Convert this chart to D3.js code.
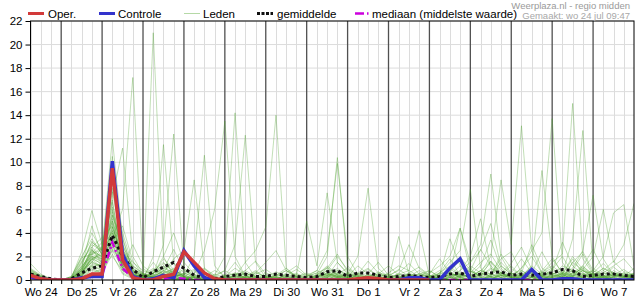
<!DOCTYPE html>
<html><head><meta charset="utf-8">
<script src="https://cdn.jsdelivr.net/npm/d3@7"></script>
<style>body{margin:0;background:#fff}svg{display:block;font-family:"Liberation Sans",Arial,sans-serif}</style>
</head><body><svg id="c" width="635" height="300"></svg>
<script>
// 6-hourly steps starting Wo 24 jul 06:00
const dayLabels = ["Wo 24","Do 25","Vr 26","Za 27","Zo 28","Ma 29","Di 30","Wo 31","Do 1","Vr 2","Za 3","Zo 4","Ma 5","Di 6","Wo 7"];
const yTicks = [0,2,4,6,8,10,12,14,16,18,20,22];

const oper = [0.4,0.1,0, 0,0,0.1,0.5, 0.5,9.5,1.7,0.2, 0,0,0.3,0.5, 2.4,1.5,0.6,0.1, 0,0,0,0, 0,0,0,0, 0,0,0,0, 0,0.1,0.2,0.1, 0,0,0,0, 0];
const controle = [0.3,0.1,0, 0,0,0.2,0.3, 0.3,10.1,2.2,0.3, 0,0.1,0.4,0.2, 2.5,1.2,0.2,0, 0,0,0,0, 0,0,0,0, 0,0,0,0, 0,0,0.1,0, 0,0,0.2,0.2, 0,0,1.0,1.8, 0,0,0,0, 0,0,0.9,0, 0,0.1,0.1,0, 0,0,0,0, 0];
const gemiddelde = [0.5,0.3,0.1, 0,0.1,0.6,1.0, 1.2,3.8,2.0,0.9, 0.2,0.7,1.1,1.5, 1.0,0.4,0.2,0.1, 0.3,0.4,0.5,0.3, 0.3,0.5,0.4,0.3, 0.2,0.3,0.7,0.8, 0.3,0.6,0.6,0.4, 0.2,0.3,0.4,0.3, 0.2,0.3,0.5,0.6, 0.3,0.5,0.6,0.7, 0.4,0.5,0.4,0.5, 0.6,0.9,0.8,0.3, 0.4,0.5,0.5,0.4, 0.3];
const mediaan = [0.2,0,0, 0,0,0.1,0.3, 0.4,3.2,1.0,0.2, 0,0,0.1,0.2, 0.1,0,0,0, 0,0,0,0, 0,0,0,0, 0,0,0,0, 0,0,0,0, 0,0,0,0, 0,0,0,0, 0,0,0,0, 0,0,0,0, 0,0,0,0, 0,0,0,0, 0];

const leden = [
[0.6,0.2,0, 0,0.1,0.8,1.5, 1.2,4.5,2.0,0.5, 0.2,21.0,2.0,0.3, 0.1,0,0.5,0.2, 0,0,0.3,0.8, 0.2,0,0,0.1, 0,0.3,0.6,0.2, 0,0.1,0.4,0, 0,0.2,0.5,0.1, 0,0,0.3,0.6, 0.2,0,0.4,1.2, 0.5,0,0.2,0.6, 1.0,0.3,0,0.5, 0.2,0,0.8,0.3, 0.1],
[0.3,0,0, 0,0,0.5,2.2, 1.8,3.5,6.0,17.2, 1.0,0.3,1.2,0.5, 0,0.2,0,0, 0.4,1.5,0.3,0, 0,0.2,0.1,0, 0,0,0.2,1.0, 0.3,0,0,0.2, 0.1,0,0,0, 0.3,0.8,0.2,0, 0,0.5,1.5,0.4, 0,0,0.3,0.2, 0,0.6,0.2,0, 0,0.3,1.1,0.4, 0.2],
[1.4,0.5,0.1, 0,0.2,1.5,3.0, 2.5,12.0,3.5,0.8, 0.3,1.5,0.4,0, 0,0,0.3,0, 0,0,0,0.2, 0,0,0.5,0, 0,0.2,0,0, 0,0.5,1.0,0.3, 0,0,0.6,0.2, 0,0.3,0,0, 0.2,0,0,0.4, 1.2,0.3,0,0, 0.2,0.5,1.8,0.6, 0,0,0.2,0, 0],
[0.5,0.1,0, 0,0,0.3,1.0, 1.5,7.0,11.2,2.0, 0.5,0.2,0,0, 0.3,0.8,0.2,0, 0,0.2,0,0, 0.6,0.3,0,0, 0,0,0,0.4, 0.2,0,0.3,0, 0,0,0,0, 0,0,0.6,0.2, 0,0,0.3,0, 0,0.2,0.8,0.3, 0,0,0.4,1.1, 0.5,0.2,0,0, 0],
[0.2,0,0, 0,0,0.2,0.8, 0.6,3.0,1.2,0.3, 0,2.0,11.5,1.5, 0.2,0,0,0, 0.3,0,0,0, 0,0.4,1.0,0.2, 0,0,0,0, 0.3,0.1,0,0, 0,0.5,0.2,0, 0,0,0,0.3, 1.0,0.2,0,0, 0,0.3,0,0.5, 0.2,0,0,0.3, 0.8,0.4,0,0, 0],
[0.8,0.3,0, 0,0.1,1.0,2.5, 2.0,5.0,2.5,1.5, 0.8,0.5,3.0,12.4, 1.0,0.2,0,0, 0,0,0.4,0, 0,0,0,0.3, 0.5,0,0,0.1, 0,0,0.2,0.7, 0.2,0,0,0, 0,0.4,1.0,0.3, 0,0,0,0, 0.2,0.4,0,0, 0,0,0.3,0.2, 0,0.6,0.3,0.5, 0.3],
[0.1,0,0, 0,0,0.6,1.8, 1.0,4.0,1.8,0.5, 0.2,0.8,1.5,0.6, 0.4,2.0,10.6,1.2, 0.2,0,0,0, 0,0.3,0,0, 0,0.2,0.8,0.3, 0,0,0,0.4, 0.1,0,0,0, 0.2,0,0,0, 0,0.3,0.9,0.2, 0,0,0,0.4, 0.6,0.2,0,0, 0,0.3,0,0.2, 0.6],
[0.4,0.1,0, 0,0.3,2.0,3.5, 2.2,6.0,1.0,0.3, 0,0.2,0.6,1.8, 2.5,8.5,1.0,0.2, 0,0,0.2,0.6, 0.3,0,0,0, 0,0.5,2.0,10.4, 1.2,0.3,0,0, 0,0.2,0.4,0, 0,0,0.2,0.1, 0,0,0,0.5, 0.3,0,0,0, 0,0.4,0.2,0, 0,0,0.5,0.3, 0.2],
[0,0,0, 0,0,0.4,1.2, 0.8,3.5,1.5,0.4, 0.3,0.5,2.0,4.0, 1.5,0.5,2.5,6.0, 13.5,2.0,0.3,0, 0,0,0.2,0, 0,0,0,0, 0.3,0.6,0.2,0, 0,3.7,0.5,0, 0,0,0,0.4, 0.8,0.3,0,0, 0,0.2,0,0, 0,0,1.5,0.8, 0.2,0,0,0.3, 0.5],
[0.3,0,0, 0,0.2,1.2,2.0, 1.5,4.5,2.0,0.7, 0.4,1.0,0.5,0.2, 0,0.6,1.0,0.4, 2.0,14.2,1.5,0.2, 0,0,0,0.5, 0.2,0,0,0, 0,0,0.5,0.2, 0,0,0,0.6, 0.3,0,0,0, 0,0.5,0.2,0, 0,0,0,0, 0.5,0.2,0.6,1.2, 0.4,0,0,0, 0],
[0.9,0.4,0.1, 0,0,0.1,0.6, 0.9,2.5,1.0,3.0, 1.2,0.5,0.3,0.8, 0.5,0,0,0.3, 0.8,3.0,12.3,1.5, 0.2,0,0,0, 0,0,0.3,0.6, 0.2,0,0,0, 0,0,0,0.2, 0,0.3,0.6,4.4, 0.8,0.2,0,0, 0,0,0.6,0.3, 0,0,0,0.2, 0.5,0.3,0,0, 0.2],
[0.2,0,0, 0,0,0.8,2.8, 1.8,5.5,3.0,1.0, 0.5,0,0.2,0.5, 0.3,0.2,0,0, 0,0.3,1.5,2.5, 4.5,14.0,1.0,0.3, 0,0,0,0.2, 0.4,0,0,0, 0,0.3,0,0, 0.2,0,0.3,0, 0,0,0.5,0.2, 0,0.8,0.3,0, 0,0,0,0, 0.2,0.6,0.4,0.3, 0.2],
[0.5,0.2,0, 0,0,0.3,1.4, 1.2,3.2,0.6,0.2, 0,0.3,0.8,0.4, 0,0,0.3,0.8, 0.4,0,0,0.6, 1.5,2.5,0.8,0.4, 5.0,1.2,7.4,1.5, 0.5,2.0,7.8,1.0, 0.2,0,0,0, 0,0,0.5,0.2, 0,0,0,0.6, 0.3,0,0,0, 0.2,0.5,0,0, 0,0,0.3,0.6, 0.3],
[0.1,0,0, 0,0.1,0.9,2.2, 2.8,6.8,1.5,0.4, 0.2,0.6,1.2,0.3, 0,0,0,0.2, 0,0.5,0.2,0, 0,0,0.6,1.2, 0.4,0.8,2.5,9.9, 2.0,0.5,0.2,0, 0,0,0.3,0.5, 0.2,0,0,0.8, 1.5,3.0,9.0,2.0, 0.5,0,0.2,0, 0,0,0.3,0.8, 0.3,0,0,0, 0],
[0.6,0.2,0, 0,0,0.4,1.6, 1.0,4.2,2.2,0.8, 0.3,0,0,0.2, 0.6,0.3,0,0, 0,0,0,0.3, 0.2,0,0,0, 0,0.3,0.5,0.2, 0,0,0,0.2, 0.6,1.2,0.8,4.2, 0.3,0.5,1.5,2.5, 7.7,1.0,0.2,0, 0,0.3,0.8,0.4, 0,0.2,0,0, 0.3,1.0,0.5,0, 0.2],
[0.2,0,0, 0,0.2,1.8,4.0, 2.5,3.8,0.8,0.2, 0,0.2,0.5,1.0, 0.3,0,0,0, 0,0.2,0.6,0.2, 0,0,0,0, 0,0,0.4,0.8, 0.3,0,0,0.3, 0.5,0.2,0,0, 0,0,0,0.4, 1.2,0.6,2.0,8.5, 3.0,13.1,2.5,0.6, 0.3,0,0.5,1.0, 0.4,0,0,0, 0],
[0.4,0.1,0, 0,0,0.2,0.9, 0.7,2.8,1.3,0.5, 0.2,0.4,0,0, 0,0.4,0.9,0.3, 0,0,0,0, 0.3,0.2,0,0.4, 0,0,0,0, 0,0.3,0.6,0.2, 0,0,0,0.5, 0.8,0.2,0,0, 0,0,0.4,1.5, 0.6,0.3,1.2,9.3, 2.0,0.5,0,0, 0,0.2,0.6,0.3, 0],
[0,0,0, 0,0.1,0.7,1.8, 1.4,4.8,1.8,0.2, 0,0,0.4,0.8, 0.2,0,0.3,0, 0,0.5,0.2,0, 0,0,0.3,0, 0.2,0,0,0.3, 0,0.2,0,0, 0,0,0.4,0.2, 0,0.3,0.7,0.2, 0,0.2,0,0.6, 0.3,1.0,2.5,4.0, 13.7,1.5,0.3,0.8, 0.5,0.2,0,0, 0.3],
[0.7,0.3,0, 0,0,1.0,2.6, 1.6,3.6,1.0,0.4, 0,0.8,0.3,0, 0,0.2,0,0.5, 0.2,0,0,0, 0,0.4,0.2,0, 0,0,0.6,0.3, 0.2,0,0,0, 0.3,0,0,0, 0,0,0.4,0.6, 0.2,0,0.3,0.2, 0,0.5,0.2,0.6, 1.5,2.2,15.0,1.8, 0.5,0,0.3,0.2, 0.5],
[0.3,0,0, 0,0,0.5,1.2, 0.9,3.0,2.4,1.2, 0.6,0.2,0,0.3, 0.5,0,0,0, 0,0,0.3,0.7, 0.2,0,0,0, 0,0.2,0.4,0, 0,0,0.5,1.5, 0.4,0,0,0, 0.2,0,0,0.3, 0,0.4,0,0, 0.6,0.2,0,0.4, 0.8,0.5,3.5,12.7, 1.0,0.4,0.2,0, 0],
[0.1,0,0, 0,0,0.2,0.5, 0.6,2.2,0.5,0.1, 0,0,0.2,0.5, 0.2,0,0,0, 0.3,0.6,0.2,0, 0,0,0.3,0.2, 0,0.4,1.2,0.5, 0,0,0.2,0, 0,0,0,0.3, 0.4,0.2,0,0, 0,0.6,0.3,0, 0,0,0.5,0.2, 0,0.4,1.0,2.5, 7.2,1.8,0.4,0.2, 0.3],
[0.5,0.2,0, 0,0,0.6,1.9, 1.3,2.0,0.8,0.3, 0,0,0.5,0.2, 0,0,0,0, 0,0.4,0,0, 0.2,0,0,0, 0,0,0.2,0.5, 0.3,0,0,0, 0.2,0.5,0.3,0, 0,0,0,0.2, 0.5,0,0,0, 0,0,0,0.3, 0.2,0,0.6,0.9, 2.0,6.0,1.5,3.0, 6.5],
[0.2,0,0, 0,0.1,0.4,1.1, 0.5,2.6,1.4,0.6, 0.2,0,0,0, 0,0.3,0.5,0.2, 0,0,0,0.3, 0,0.5,0.2,0, 0,0,0,0.2, 0.6,0.2,0,0, 0,0,0.2,0, 0,0.6,0.3,0, 0,0,0.2,0.4, 0.2,0,0,0, 0.4,0.3,0,0.5, 0.8,2.0,5.7,6.4, 1.2],
[0.3,0.1,0, 0,0,0.8,2.4, 2.0,5.2,1.6,0.6, 0.2,0.6,1.4,0.8, 0.3,0,0.2,0, 0,0,0,0, 0,0.2,0,0, 0.3,0.6,1.0,0.4, 0,0,0.3,0.5, 0.2,0,0,0.4, 0.6,1.2,2.0,4.4, 1.5,2.5,4.8,1.2, 0.5,0.8,0.3,0, 0,0.3,0.8,0.5, 0,0,0,0.2, 0],
[1.0,0.4,0, 0,0.2,2.4,5.9, 3.0,4.0,1.2,0.3, 0,0.2,0,0.6, 0.2,0,0,0, 0.4,0.2,0,0, 0,0,0.2,0.6, 0,0,0,0, 0.2,0.4,0.2,0, 0,0.3,0,0, 0,0,0,0, 0.3,0.8,1.6,0.6, 0,0.2,0,0, 0.3,0.6,0.3,0, 0.2,0,0.3,0.4, 0.2],
[0.4,0.1,0, 0,0.1,1.4,3.2, 2.6,7.5,3.0,1.0, 0.4,0.3,0.8,0.5, 0,0.4,0.2,0, 0,0,0.3,0.2, 0,0,0,0, 0,0.5,0.2,0, 0,0,0,0.3, 0,0.2,0,0, 0.3,0,0.2,0.8, 2.0,5.2,1.0,0.6, 0.2,0,0,0.7, 1.2,0.5,0,0, 0.3,0.2,0,0, 0.4],
[0.6,0.3,0.1, 0,0,0.9,2.0, 1.8,5.8,2.6,0.7, 0.3,0,0.4,0.2, 0,0,0.6,0.3, 0.2,0,0,0, 0.4,0.2,0,0, 0,0,0.3,1.5, 0.6,0.2,0,0, 0.4,0.8,3.0,1.0, 0.3,0.4,3.5,1.2, 0.2,0,0,0.4, 0.3,0,0.2,0.5, 0,0.3,0.6,0.2, 0,0.4,0.2,0, 0],
[0.2,0,0, 0,0,0.3,1.3, 1.1,8.5,2.2,0.5, 0.2,0.3,0.2,0, 0,0,0,0.2, 0,0.4,0.2,0, 0.3,0,0,0, 0,0.2,0.6,0.3, 0,0,0,0, 0,0,0.5,0.3, 0,0.2,0,0, 0,0.2,0.5,0.3, 0,0.4,1.0,0.3, 0,0,0.4,0.3, 0.6,0.2,0,0, 0.2],
[0.7,0.2,0, 0,0,0.5,1.7, 2.4,9.0,4.0,1.2, 0.5,0.2,0,0, 0.2,0,0,0, 0,0,0,0.4, 0.3,0,0,0, 0,0,0.2,0.8, 0.5,0.3,0.2,0, 0,0,0,0, 0.2,0.3,0,0, 0,0,0.3,0.6, 0.2,0,0,0, 0.5,0.8,0.4,0.2, 0,0,0.5,0.3, 0.5],
[0.4,0.1,0, 0,0.2,1.1,2.3, 3.2,6.2,1.8,0.3, 0,0.4,1.0,0.6, 0.3,0.2,0,0, 0,0,0.6,0.3, 0,0,0,0.2, 0.4,0.2,0,0, 0,0,0.4,0.2, 0,0,0,0, 0,0,0.2,0.5, 0.3,0,0,0, 0,0.3,0.6,0.2, 0,0,0,0.4, 0.2,0.3,0,0, 0],
[0.5,0.2,0, 0,0,1.2,3.3, 2.2,5.5,2.4,0.9, 0.3,0.2,0.8,1.4, 0.6,0.2,0,0, 0.2,0.6,0.4,0, 0,0.3,0.8,0.3, 0,0,0.4,0.6, 0.3,1.2,0.5,0, 0,0.6,1.4,0.5, 0.2,0,0.8,1.6, 0.6,1.5,2.2,0.8, 0.3,1.0,2.0,0.6, 0.4,1.2,0.8,0.3, 0.6,1.4,0.5,0.2, 0.4],
[0.3,0.1,0, 0,0.2,1.6,2.8, 3.6,4.6,1.4,0.4, 0.2,0.9,0.4,0.2, 0,0.3,0.6,0.2, 0,0,0.8,1.6, 0.5,0,0,0.3, 0.6,0.2,1.0,2.2, 0.7,0.3,0,0.5, 1.2,0.4,0,0.2, 0.5,1.8,0.6,0.3, 0.8,2.6,1.2,0.4, 0.2,0.6,3.0,1.0, 0.4,0.2,1.5,2.4, 0.8,0.3,0.2,0.6, 0.3],
[0.9,0.3,0, 0,0,0.7,1.5, 2.8,10.5,2.8,0.6, 0.2,0,0.6,0.9, 0.3,0,0,0.4, 0.8,0.3,0,0, 0.2,0.7,0.3,0, 0.3,0.8,0.4,0.2, 0,0.5,1.6,0.6, 0.2,0,0.3,0.8, 0.3,0.6,1.8,0.4, 0.2,0.8,0.5,1.8, 2.4,0.6,0.2,0.3, 0.9,2.0,0.6,0.2, 0.3,0.8,1.6,0.7, 0.5],
[0.2,0,0, 0,0,0.4,2.0, 1.6,3.2,4.6,1.6, 0.4,0.3,0.2,0.5, 0.2,0,0,0, 0.3,1.0,0.4,0, 0,0,0.4,0.9, 0.3,0,0,0.5, 1.0,0.4,0.2,0, 0.3,0.9,0.3,0, 0,0.2,0.5,0.3, 0.4,1.2,3.4,1.0, 0.3,0.4,0.2,0.8, 1.8,0.6,0.3,1.2, 2.6,0.8,0.3,0, 0.2],
[0.6,0.2,0, 0,0.1,1.0,4.6, 2.0,6.6,2.0,0.5, 0.2,0.5,1.8,0.9, 0.3,0.1,0,0.2, 0,0,0,0.5, 0.9,0.3,0,0, 0,0.4,1.1,0.4, 0.2,0,0,0.6, 0.4,0.2,0,0.3, 0.8,0.3,0.4,1.2, 0.7,0.3,1.6,0.6, 1.4,2.8,0.9,0.3, 0.2,0.7,0.4,0.8, 0.3,0.6,1.2,1.8, 0.8],
[0.3,0.1,0, 0,0.1,0.8,1.8, 2.2,4.2,1.0,0.3, 0,0.3,0.7,0.3, 0.5,0.9,0.3,0, 0,0.3,0.2,0, 0,0,0.5,0.3, 0,0.3,0.8,2.0, 0.9,0.3,0.2,0, 0,0.2,0.6,1.1, 0.4,0,0.2,0.5, 0.2,0.6,0.3,2.2, 1.0,0.3,0.6,2.4, 0.8,3.2,1.2,0.5, 0.3,0.2,0.6,0.4, 0.2],
[0.8,0.3,0.1, 0,0,0.6,2.6, 1.4,7.8,3.6,0.8, 0.5,0.2,0,0.4, 0.9,0.4,0,0, 0,0.4,0.8,0.3, 0,0.2,0,0, 0.3,0.6,0.3,0, 0,0.4,0.9,0.3, 0,0,0.4,0.2, 0,0.6,1.2,0.4, 0.3,0.8,0.5,0.2, 0.6,1.8,0.6,0.4, 0.3,0.5,2.0,0.9, 0.4,1.0,0.6,0.3, 1.0],
[0.4,0.1,0, 0,0.3,1.9,2.2, 2.6,5.0,1.2,0.7, 0.3,0.6,0.9,2.6, 0.8,0.3,0,0, 0,0,0,0.2, 0,0.4,0.8,0.2, 0,0.2,0.5,0.3, 0.5,0.2,0,0, 0.2,0.5,0.8,0.3, 0,0.3,0.6,2.0, 0.8,0.4,1.0,0.4, 0.2,0.3,1.2,0.5, 0.6,0.4,0.8,2.2, 0.6,0.3,0.4,0.9, 0.3]
];

const W = 635, H = 300;
const L = 30.5, R = 634, T = 21, B = 280;
const start = new Date(2024, 6, 24, 6);
const end = new Date(2024, 7, 8, 0);
const tAt = i => d3.timeHour.offset(start, 6 * i);

const svg = d3.select("#c");
const x = d3.scaleTime().domain([start, end]).range([L, R]);
const y = d3.scaleLinear().domain([0, 22]).range([B, T]);

// grid
const g = svg.append("g");
g.selectAll("line.hg").data(yTicks).join("line")
  .attr("x1", L).attr("x2", R).attr("y1", d => y(d)).attr("y2", d => y(d))
  .attr("stroke", "#dcdcdc").attr("stroke-width", 1);
const sixH = d3.timeHour.every(6).range(start, end).filter(d => d.getHours() !== 0);
g.selectAll("line.vg").data(sixH).join("line")
  .attr("x1", d => Math.round(x(d)) + 0.5).attr("x2", d => Math.round(x(d)) + 0.5).attr("y1", T).attr("y2", B)
  .attr("stroke", "#dcdcdc").attr("stroke-width", 1);
const days = d3.timeDay.range(d3.timeDay.offset(d3.timeDay.floor(start), 1), end);
g.selectAll("line.dg").data(days).join("line")
  .attr("x1", d => x(d)).attr("x2", d => x(d)).attr("y1", T).attr("y2", B)
  .attr("stroke", "#505050").attr("stroke-width", 1.3);

svg.append("clipPath").attr("id", "clip").append("rect")
  .attr("x", L).attr("y", T).attr("width", R - L).attr("height", B - T);
const plot = svg.append("g").attr("clip-path", "url(#clip)");
const line = d3.line().x((d, i) => x(tAt(i))).y(d => y(d));

plot.append("g").selectAll("path").data(leden).join("path")
  .attr("d", line).attr("fill", "none")
  .attr("stroke", "#4ca22c").attr("stroke-opacity", 0.34).attr("stroke-width", 1);
plot.append("path").attr("d", line(mediaan)).attr("fill", "none")
  .attr("stroke", "#cc00dd").attr("stroke-width", 2.5).attr("stroke-dasharray", "7,3,2,3");
plot.append("path").attr("d", line(gemiddelde)).attr("fill", "none")
  .attr("stroke", "#111").attr("stroke-width", 3).attr("stroke-dasharray", "3,3");
plot.append("path").attr("d", line(controle)).attr("fill", "none")
  .attr("stroke", "#3333cc").attr("stroke-width", 3.5).attr("stroke-linejoin", "miter");
plot.append("path").attr("d", line(oper)).attr("fill", "none")
  .attr("stroke", "#d23a3a").attr("stroke-width", 3.5);

// frame
svg.append("rect").attr("x", L).attr("y", T).attr("width", R - L).attr("height", B - T)
  .attr("fill", "none").attr("stroke", "#000").attr("stroke-width", 1);

// axes
const yAxis = d3.axisLeft(y).tickValues(yTicks).tickSize(5).tickPadding(3);
const ya = svg.append("g").attr("transform", `translate(${L},0)`).call(yAxis);
ya.select(".domain").remove();
ya.selectAll("text").attr("font-size", 11.5).attr("fill", "#000").attr("font-family", "Liberation Sans, Arial, sans-serif");
ya.selectAll("line").attr("stroke", "#000");

const xTickAxis = d3.axisBottom(x).tickValues(d3.timeHour.every(6).range(start, end)).tickSize(4).tickFormat("");
const xt = svg.append("g").attr("transform", `translate(0,${B})`).call(xTickAxis);
xt.select(".domain").remove();
xt.selectAll("line").attr("stroke", "#000");

const noons = dayLabels.map((d, i) => new Date(2024, 6, 24 + i, 12));
const xAxis = d3.axisBottom(x).tickValues(noons).tickSize(0).tickPadding(0)
  .tickFormat((d, i) => dayLabels[i]);
const xa = svg.append("g").attr("transform", `translate(0,${B})`).call(xAxis);
xa.select(".domain").remove();
xa.selectAll("text").attr("dy", null).attr("y", 16).attr("font-size", 11.5).attr("fill", "#000")
  .attr("font-family", "Liberation Sans, Arial, sans-serif");

// legend
const leg = svg.append("g").attr("font-size", 11.5).attr("fill", "#000");
const ly = 13.5;
function legItem(x0, x1, tx, label, style) {
  const l = leg.append("line").attr("x1", x0).attr("x2", x1).attr("y1", ly).attr("y2", ly);
  style(l);
  leg.append("text").attr("x", tx).attr("y", 17.5).text(label);
}
legItem(28, 44, 48, "Oper.", l => l.attr("stroke", "#d23a3a").attr("stroke-width", 3));
legItem(99, 115, 118, "Controle", l => l.attr("stroke", "#3333cc").attr("stroke-width", 3));
legItem(184, 200, 203, "Leden", l => l.attr("stroke", "#b5d9a6").attr("stroke-width", 1));
legItem(257, 273, 277, "gemiddelde", l => l.attr("stroke", "#111").attr("stroke-width", 3).attr("stroke-dasharray", "3,1.5"));
legItem(355, 369, 372, "mediaan (middelste waarde)", l => l.attr("stroke", "#cc00dd").attr("stroke-width", 2.5).attr("stroke-dasharray", "9,3,1.5,3"));

svg.append("text").attr("x", 630).attr("y", 9).attr("text-anchor", "end")
  .attr("font-size", 9.5).attr("fill", "#9a9a9a").text("Weerplaza.nl - regio midden");
svg.append("text").attr("x", 630).attr("y", 19).attr("text-anchor", "end")
  .attr("font-size", 9.5).attr("fill", "#a8a8a8").text("Gemaakt: wo 24 jul 09:47");
</script></body></html>
